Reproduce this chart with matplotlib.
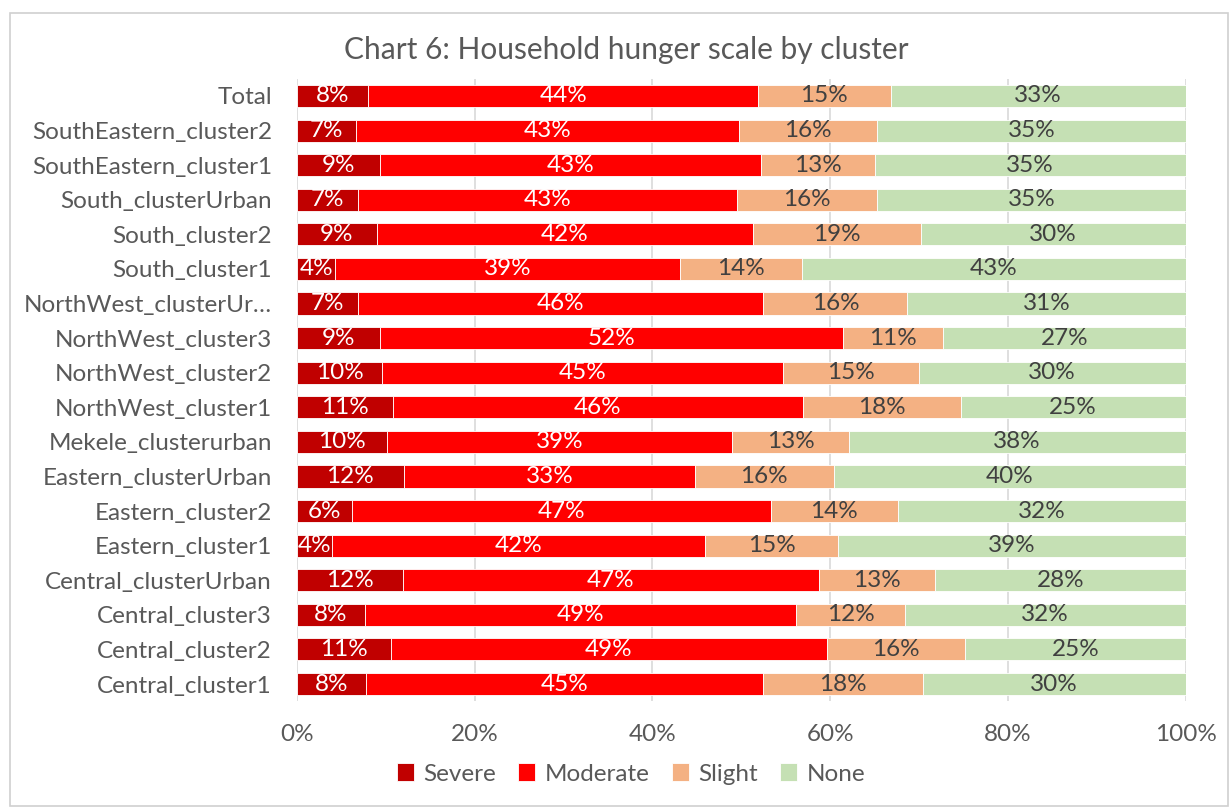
import matplotlib
matplotlib.use("Agg")
import matplotlib.pyplot as plt
from matplotlib.patches import Rectangle
import numpy as np

plt.rcParams['font.family'] = ['Lato', 'DejaVu Sans']

categories = [
    "Total", "SouthEastern_cluster2", "SouthEastern_cluster1", "South_clusterUrban",
    "South_cluster2", "South_cluster1", "NorthWest_clusterUr…", "NorthWest_cluster3",
    "NorthWest_cluster2", "NorthWest_cluster1", "Mekele_clusterurban", "Eastern_clusterUrban",
    "Eastern_cluster2", "Eastern_cluster1", "Central_clusterUrban", "Central_cluster3",
    "Central_cluster2", "Central_cluster1",
]
severe   = [8.0, 6.6, 9.3, 6.9, 9.0, 4.3, 6.9, 9.3, 9.6, 10.8, 10.1, 12.0, 6.2, 3.9, 11.9, 7.6, 10.6, 7.8]
moderate = [43.9, 43.1, 42.9, 42.6, 42.3, 38.8, 45.6, 52.1, 45.1, 46.1, 38.9, 32.8, 47.1, 42.0, 46.8, 48.6, 49.0, 44.6]
slight   = [14.9, 15.6, 12.8, 15.8, 18.9, 13.7, 16.2, 11.3, 15.3, 17.8, 13.1, 15.6, 14.3, 15.0, 13.1, 12.2, 15.6, 18.0]
none     = [33.2, 34.7, 35.0, 34.7, 29.8, 43.2, 31.3, 27.3, 30.0, 25.3, 37.9, 39.6, 32.4, 39.1, 28.2, 31.6, 24.8, 29.6]
series_names = ["Severe", "Moderate", "Slight", "None"]
x_ticks = [0, 20, 40, 60, 80, 100]
title = "Chart 6: Household hunger scale by cluster"

colors = ["#C00000", "#FF0000", "#F4B183", "#C5E0B4"]
text_colors = ["white", "white", "#404040", "#404040"]

FS = 17.5
W, H = 1231, 809
fig = plt.figure(figsize=(W / 100, H / 100), dpi=100)
ax = fig.add_axes([297 / W, 1 - 701.3 / H, (1185.5 - 297) / W, (701.3 - 78.7) / H])

y = np.arange(len(categories))
left = np.zeros(len(categories))
data = [severe, moderate, slight, none]
for vals, name, c, tc in zip(data, series_names, colors, text_colors):
    vals = np.array(vals) / 100.0
    ax.barh(y, vals, left=left, height=0.64, color=c, edgecolor="white",
            linewidth=0.6, label=name, zorder=3)
    for yi, l, v in zip(y, left, vals):
        ax.text(l + v / 2, yi, f"{v * 100:.0f}%", ha="center", va="center",
                color=tc, fontsize=FS, zorder=4)
    left = left + vals

ax.set_ylim(len(categories) - 0.5, -0.5)
ax.set_xlim(0, 1)
ax.set_yticks(y)
ax.set_yticklabels(categories, fontsize=FS, color="#595959")
ax.set_xticks([t / 100 for t in x_ticks])
ax.set_xticklabels([f"{t}%" for t in x_ticks], fontsize=FS, color="#595959")
ax.tick_params(axis="both", length=0)
ax.tick_params(axis="x", pad=16)
ax.tick_params(axis="y", pad=18)
for s in ax.spines.values():
    s.set_visible(False)
ax.grid(axis="x", color="#D9D9D9", linewidth=1.2, zorder=0)
ax.set_axisbelow(True)

fig.text(626 / W, 1 - 50 / H, title, ha="center", va="center", fontsize=21.5, color="#595959")

fig.legend(loc="center", bbox_to_anchor=(631 / W, 1 - 774 / H), ncol=4, frameon=False,
           handlelength=0.7, handleheight=0.7, handletextpad=0.4, columnspacing=0.9,
           fontsize=FS, labelcolor="#595959")

fig.patches.append(Rectangle((10 / W, 1 - 806 / H), (1228 - 10) / W, (806 - 13) / H,
                             transform=fig.transFigure, fill=False, edgecolor="#D0D0D0",
                             linewidth=1.2))

fig.savefig("out.png", dpi=100)
